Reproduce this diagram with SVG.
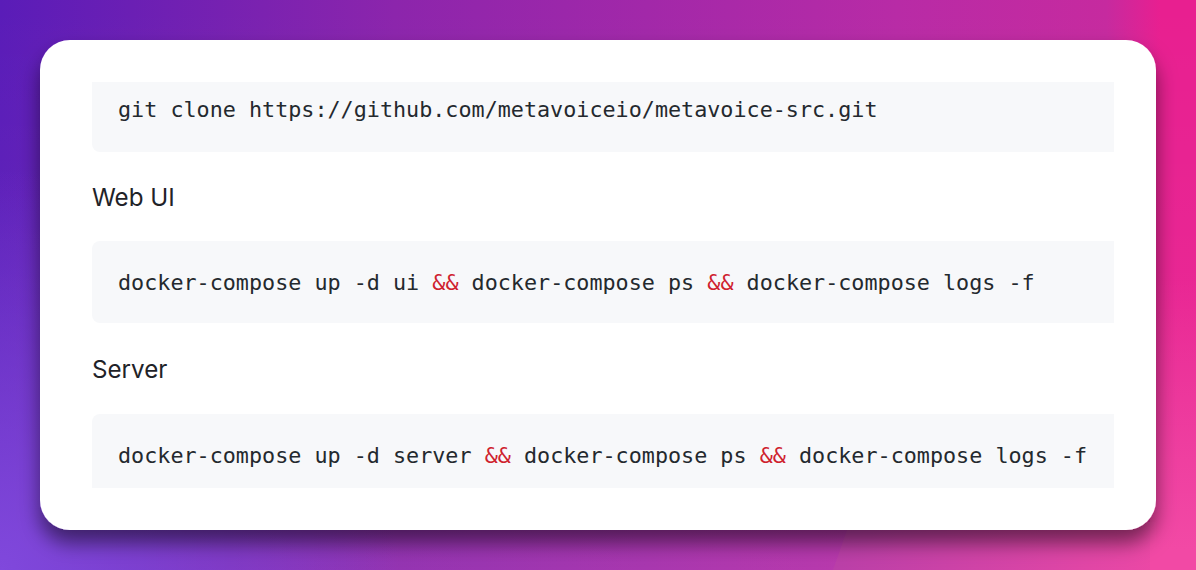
<svg xmlns="http://www.w3.org/2000/svg" width="1196" height="570" viewBox="0 0 1196 570">
<defs>
<linearGradient id="bg" gradientUnits="userSpaceOnUse" x1="0" y1="0" x2="1196" y2="0">
<stop offset="0" stop-color="#5a1cb8"/><stop offset=".33" stop-color="#8c25ac"/><stop offset=".75" stop-color="#b82ba6"/><stop offset=".925" stop-color="#c62a9f"/><stop offset=".97" stop-color="#e81f90"/><stop offset="1" stop-color="#e81f90"/>
</linearGradient>
<linearGradient id="glow" gradientUnits="userSpaceOnUse" x1="0" y1="0" x2="0" y2="570">
<stop offset="0" stop-color="#ffffff" stop-opacity="0"/><stop offset="1" stop-color="#ffffff" stop-opacity=".07"/>
</linearGradient>
<radialGradient id="left" gradientUnits="userSpaceOnUse" cx="0" cy="570" r="400">
<stop offset="0" stop-color="#8048dc" stop-opacity="1"/><stop offset="1" stop-color="#8048dc" stop-opacity="0"/>
</radialGradient>
<linearGradient id="corner" gradientUnits="userSpaceOnUse" x1="835" y1="570" x2="1196" y2="540">
<stop offset="0" stop-color="#ba3fa8"/><stop offset="1" stop-color="#f249a5"/>
</linearGradient>
<linearGradient id="rightfade" gradientUnits="userSpaceOnUse" x1="0" y1="280" x2="0" y2="550">
<stop offset="0" stop-color="#f249a5" stop-opacity="0"/><stop offset="1" stop-color="#f249a5" stop-opacity="1"/>
</linearGradient>
<filter id="shadow" x="-10%" y="-15%" width="120%" height="135%">
<feDropShadow dx="0" dy="13" stdDeviation="10" flood-color="#000000" flood-opacity=".5"/>
</filter>
</defs>
<style>
.code{fill:#f7f8fa}
.mono{font-family:"DejaVu Sans Mono","Liberation Mono",monospace;font-size:21.75px;fill:#24292e}
.amp{fill:#cf222e}
.label{font-family:"Inter","Liberation Sans",sans-serif;font-size:24.2px;fill:#1f2328}
</style>
<g id="background">
<rect width="1196" height="570" fill="url(#bg)"/>
<rect width="1196" height="570" fill="url(#glow)"/>
<rect width="400" height="400" y="170" fill="url(#left)"/>
<polygon points="833,570 850,522 1156,522 1156,570" fill="url(#corner)"/>
<rect x="1150" y="280" width="46" height="290" fill="url(#rightfade)"/>
</g>
<rect id="card" x="40" y="40" width="1116" height="490" rx="30" fill="#fff" filter="url(#shadow)"/>
<g id="block-clone">
<path class="code" d="M92 82H1114V152H100a8 8 0 0 1-8-8Z"/>
<text class="mono" x="118" y="117">git clone https://github.com/metavoiceio/metavoice-src.git</text>
</g>
<g id="label-webui"><text class="label" x="92" y="206">Web UI</text></g>
<g id="block-webui">
<path class="code" d="M100 241H1114V323H100a8 8 0 0 1-8-8V249a8 8 0 0 1 8-8Z"/>
<text class="mono" x="118" y="290" xml:space="preserve">docker-compose up -d ui <tspan class="amp">&amp;&amp;</tspan> docker-compose ps <tspan class="amp">&amp;&amp;</tspan> docker-compose logs -f</text>
</g>
<g id="label-server"><text class="label" x="92" y="378">Server</text></g>
<g id="block-server">
<path class="code" d="M100 414H1114V488H92V422a8 8 0 0 1 8-8Z"/>
<text class="mono" x="118" y="463" xml:space="preserve">docker-compose up -d server <tspan class="amp">&amp;&amp;</tspan> docker-compose ps <tspan class="amp">&amp;&amp;</tspan> docker-compose logs -f</text>
</g>
</svg>
